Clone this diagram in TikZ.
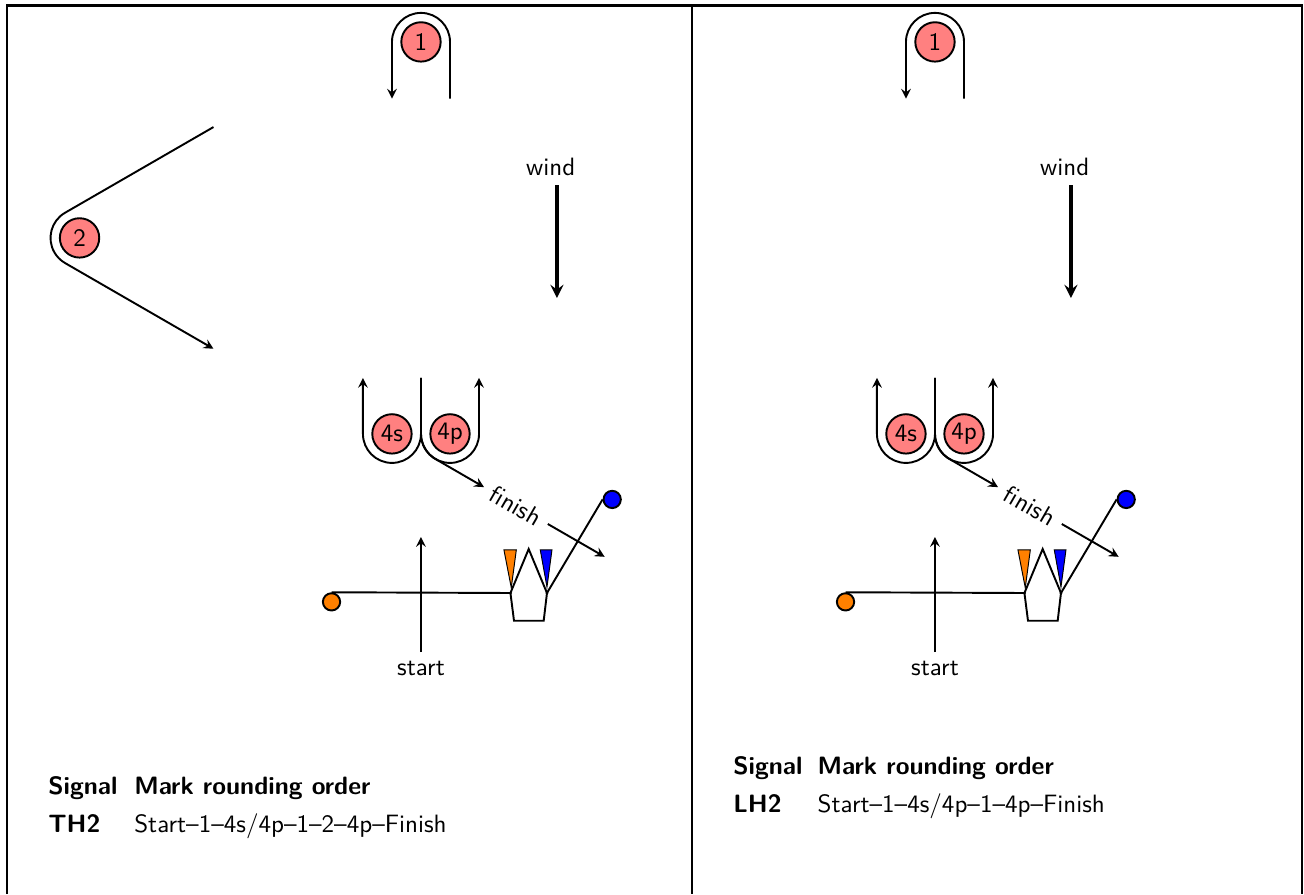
\documentclass[tikz,border=0pt]{standalone}
\begin{document}
\fontsize{10.45pt}{12.5pt}\selectfont
\begin{tikzpicture}[>=stealth, thick, font=\sffamily,
    rmark/.style={circle, draw, fill=red!50, minimum size=16.4pt, inner sep=0pt},
    buoy/.style={circle, draw, minimum size=7.2pt, inner sep=0pt},
    tabtext/.style={anchor=base west, inner sep=0pt}]
    \useasboundingbox (-6.165,-4.408) rectangle (12.931,8.684);
    \def\rr{0.425}
    \def\legA{0.83}
    \def\legB{2.51}

    % frame
    \draw[line width=1pt] (-6.066,-4.408) |- (12.901,8.603) -- (12.901,-4.408);
    \draw[line width=1pt] (3.969,8.603) -- (3.969,-4.408);

    \foreach \dx/\p in {0/L, 7.527/R}{
    \begin{scope}[xshift=\dx cm]
        \node[rmark] (m1\p) at (0,8.07) {1};
        \draw[->] (m1\p.center) ++(\rr,-\legA) -- ++(0,\legA) arc[start angle=0, end angle=180, radius=\rr] -- ++(0,-\legA);

        \node (wind\p) at (1.90,6.24) {wind};
        \coordinate (windTip\p) at (1.99,4.32);
        \draw[->, line width=1.4pt] (wind\p.south -| windTip\p) -- (windTip\p);

        \node[rmark] (m4s\p) at (-0.425,2.33) {4s};
        \node[rmark] (m4p\p) at (0.425,2.33) {4p};
        \draw[->] (m4s\p.center) ++(\rr,0.82) -- ++(0,-0.82) arc[start angle=0, end angle=-180, radius=\rr] -- ++(0,0.82);
        \draw[->] (m4p\p.center) ++(-\rr,0.82) -- ++(0,-0.82) arc[start angle=180, end angle=360, radius=\rr] -- ++(0,0.82);

        \node[rotate=-30] (fin\p) at (1.39,1.28) {finish};
        \draw[->] (m4p\p.center) ++(-\rr,0) arc[start angle=180, end angle=240, radius=\rr] -- (fin\p);
        \coordinate (finTip\p) at (2.69,0.53);
        \draw[->] (fin\p) -- (finTip\p);

        \node (st\p) at (0,-1.11) {start};
        \coordinate (stTip\p) at (0,0.82);
        \draw[->] (st\p) -- (stTip\p);

        % line and committee boat
        \coordinate (bL\p) at (1.31,0);
        \coordinate (bR\p) at (1.845,0);
        \node[buoy, fill=orange] (pinL\p) at (-1.31,-0.13) {};
        \node[buoy, fill=blue] (pinR\p) at (2.80,1.37) {};
        \draw (pinL\p.north) -- (bL\p);
        \draw (bR\p) -- (pinR\p.west);
        \draw[fill=white] (1.577,0.644) -- (bR\p) -- (1.797,-0.406) -- (1.362,-0.406) -- (bL\p) -- cycle;
        \draw[fill=orange, thin] (1.215,0.63) -- (1.396,0.63) -- (1.322,0.078) -- cycle;
        \draw[fill=blue, thin] (1.747,0.63) -- (1.918,0.63) -- (1.845,0.088) -- cycle;
        \fill (bL\p) circle (0.7pt) (bR\p) circle (0.7pt);
    \end{scope}
    }

    \node[rmark] (m2) at (-5.0,5.2) {2};
    \draw[->] (m2.center) ++(120:\rr) ++(30:\legB) -- ++(210:\legB) arc[start angle=120, end angle=240, radius=\rr] -- ++(-30:\legB);

    % signal tables
    \node[tabtext, font=\sffamily\bfseries] (sigL) at (-5.472,-2.946) {Signal};
    \node[tabtext, font=\sffamily\bfseries] (ordL) at (-4.213,-2.946) {Mark rounding order};
    \node[tabtext, font=\sffamily\bfseries] (codeL) at (-5.472,-3.503) {TH2};
    \node[tabtext] (seqL) at (-4.213,-3.503) {Start--1--4s/4p--1--2--4p--Finish};

    \node[tabtext, font=\sffamily\bfseries] (sigR) at (4.559,-2.655) {Signal};
    \node[tabtext, font=\sffamily\bfseries] (ordR) at (5.795,-2.655) {Mark rounding order};
    \node[tabtext, font=\sffamily\bfseries] (codeR) at (4.559,-3.217) {LH2};
    \node[tabtext] (seqR) at (5.795,-3.217) {Start--1--4s/4p--1--4p--Finish};
\end{tikzpicture}
\end{document}
